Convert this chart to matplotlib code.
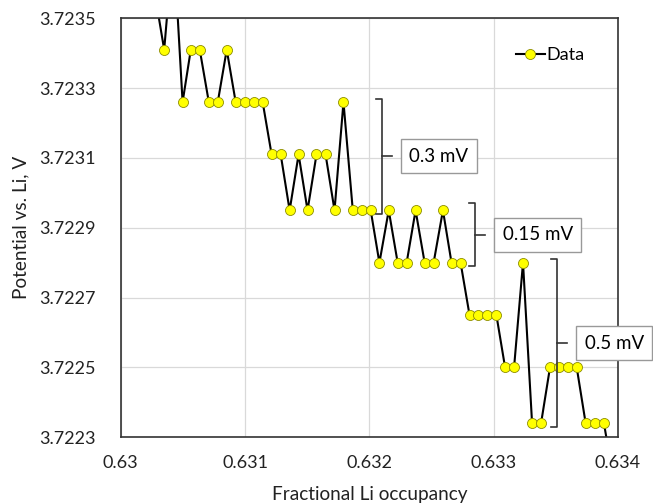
import matplotlib.pyplot as plt
from matplotlib.ticker import FixedLocator, FuncFormatter

plt.rcParams['font.family'] = ['Lato', 'DejaVu Sans']

# fractional Li occupancy (points just outside the window are kept so the line runs off the frame)
occupancy = [0.630275, 0.630350, 0.630424, 0.630498, 0.630564, 0.630636, 0.630709,
             0.630781, 0.630853, 0.630925, 0.630998, 0.631070, 0.631142, 0.631214,
             0.631287, 0.631359, 0.631431, 0.631503, 0.631575, 0.631648, 0.631720,
             0.631792, 0.631867, 0.631939, 0.632011, 0.632081, 0.632156, 0.632228,
             0.632300, 0.632372, 0.632445, 0.632517, 0.632592, 0.632661, 0.632734,
             0.632806, 0.632878, 0.632950, 0.633022, 0.633092, 0.633164, 0.633236,
             0.633309, 0.633381, 0.633453, 0.633525, 0.633598, 0.633668, 0.633740,
             0.633812, 0.633887, 0.633959]

# potential vs Li, V
potential = [3.72357, 3.72341, 3.72372, 3.72326, 3.72341, 3.72341, 3.72326,
             3.72326, 3.72341, 3.72326, 3.72326, 3.72326, 3.72326, 3.72311,
             3.72311, 3.72295, 3.72311, 3.72295, 3.72311, 3.72311, 3.72295,
             3.72326, 3.72295, 3.72295, 3.72295, 3.72280, 3.72295, 3.72280,
             3.72280, 3.72295, 3.72280, 3.72280, 3.72295, 3.72280, 3.72280,
             3.72265, 3.72265, 3.72265, 3.72265, 3.72250, 3.72250, 3.72280,
             3.72234, 3.72234, 3.72250, 3.72250, 3.72250, 3.72250, 3.72234,
             3.72234, 3.72234, 3.72219]

x_ticks = [0.630, 0.631, 0.632, 0.633, 0.634]
y_ticks = [3.7223, 3.7225, 3.7227, 3.7229, 3.7231, 3.7233, 3.7235]

# brackets: x position, bottom, top, label
bracket_x = [0.632101, 0.632852, 0.633512]
bracket_lo = [3.72294, 3.72279, 3.72233]
bracket_hi = [3.72327, 3.72297, 3.72281]
bracket_text = ['0.3 mV', '0.15 mV', '0.5 mV']

fig = plt.figure(figsize=(6.53, 5.04), dpi=100)
ax = fig.add_axes([0.1848, 0.1323, 0.7616, 0.8314])

ax.plot(occupancy, potential, color='black', lw=1.5, marker='o', ms=7.2,
        mfc='#FFFF00', mec='#8C8C00', mew=0.6, label='Data')

ax.set_xlim(0.63, 0.634)
ax.set_ylim(3.7223, 3.7235)
ax.xaxis.set_major_locator(FixedLocator(x_ticks))
ax.yaxis.set_major_locator(FixedLocator(y_ticks))
ax.xaxis.set_major_formatter(FuncFormatter(lambda v, p: f'{v:.3f}'.rstrip('0')))
ax.yaxis.set_major_formatter(FuncFormatter(lambda v, p: f'{v:.4f}'))
ax.tick_params(length=0, labelsize=13, colors='#222222')
ax.tick_params(axis='x', pad=13)
ax.tick_params(axis='y', pad=18)
ax.grid(True, color='#D9D9D9', lw=0.9)
ax.set_axisbelow(True)
for s in ax.spines.values():
    s.set_color('#333333')
    s.set_linewidth(1.2)

ax.set_xlabel('Fractional Li occupancy', fontsize=13.7, color='#222222')
ax.set_ylabel('Potential vs. Li, V', fontsize=13.7, color='#222222')
ax.xaxis.set_label_coords(0.5, -0.115)
ax.yaxis.set_label_coords(-0.183, 0.5)

ax.legend(loc='upper right', bbox_to_anchor=(0.966, 0.97), frameon=False,
          fontsize=13, handlelength=1.6, handletextpad=0.1)

# brackets with text boxes
tick_w = 0.000048
mid_w = 0.00008
for bx, lo, hi, txt in zip(bracket_x, bracket_lo, bracket_hi, bracket_text):
    ax.plot([bx - tick_w, bx, bx, bx - tick_w], [hi, hi, lo, lo],
            color='#333333', lw=1.2, clip_on=False)
    mid = (lo + hi) / 2
    ax.plot([bx, bx + mid_w], [mid, mid], color='#333333', lw=1.2, clip_on=False)
    ax.annotate(txt, xy=(bx + mid_w, mid), xytext=(12.5, 0), textcoords='offset points',
                fontsize=13.5, va='center', ha='left', annotation_clip=False, zorder=5,
                bbox=dict(boxstyle='square,pad=0.45', fc='white', ec='#999999', lw=1))

fig.savefig('out.png', dpi=100)
